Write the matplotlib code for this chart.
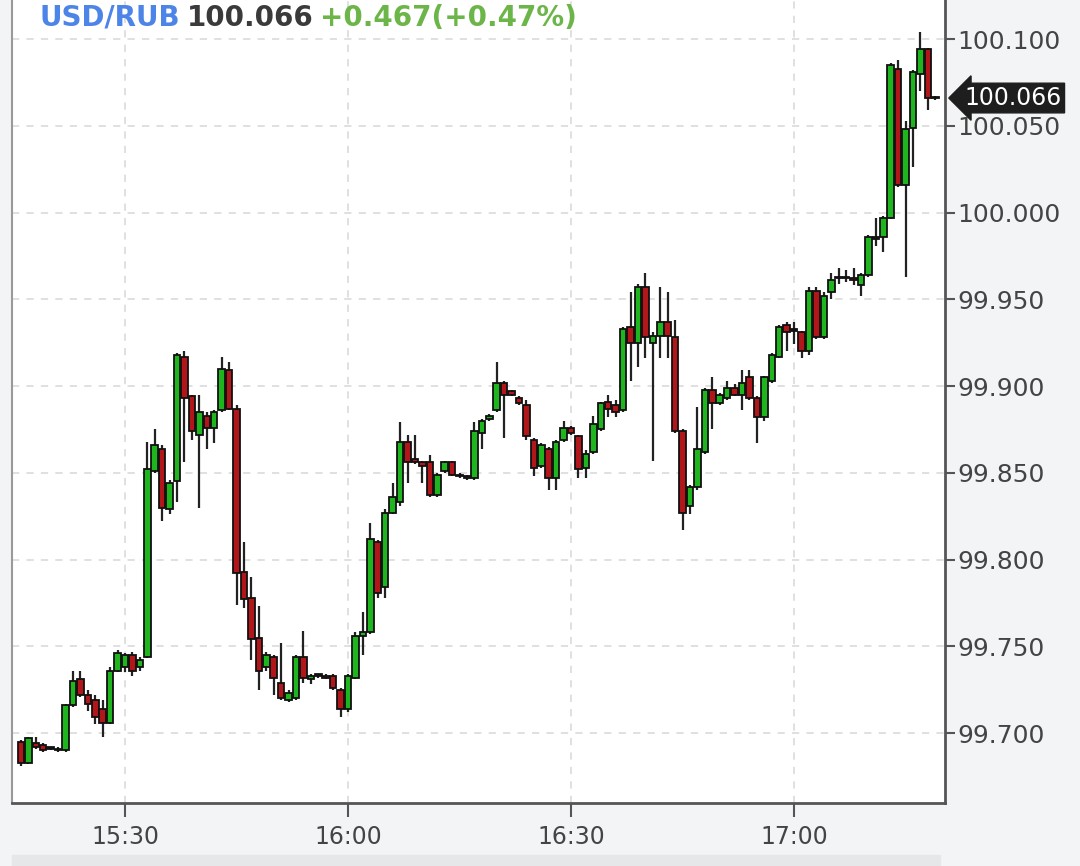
import numpy as np
import matplotlib
matplotlib.use('Agg')
import matplotlib.pyplot as plt
from matplotlib.patches import Rectangle

# velas de 1 minuto USD/RUB, la primera a las 15:16
apertura = [99.695, 99.683, 99.694, 99.693, 99.691, 99.691, 99.690, 99.716, 99.731, 99.722,
            99.719, 99.714, 99.706, 99.736, 99.738, 99.745, 99.738, 99.744, 99.851, 99.864,
            99.829, 99.845, 99.917, 99.894, 99.872, 99.883, 99.876, 99.886, 99.909, 99.887,
            99.793, 99.778, 99.755, 99.738, 99.744, 99.729, 99.719, 99.720, 99.744, 99.731,
            99.733, 99.733, 99.733, 99.725, 99.714, 99.732, 99.756, 99.758, 99.810, 99.784,
            99.827, 99.833, 99.868, 99.858, 99.856, 99.856, 99.837, 99.851, 99.856, 99.849,
            99.848, 99.847, 99.873, 99.881, 99.886, 99.902, 99.897, 99.893, 99.889, 99.869,
            99.854, 99.864, 99.847, 99.869, 99.876, 99.871, 99.853, 99.862, 99.875, 99.891,
            99.889, 99.886, 99.934, 99.925, 99.957, 99.925, 99.929, 99.937, 99.928, 99.874,
            99.831, 99.842, 99.862, 99.898, 99.890, 99.893, 99.899, 99.895, 99.905, 99.893,
            99.882, 99.903, 99.917, 99.935, 99.932, 99.931, 99.920, 99.955, 99.928, 99.954,
            99.962, 99.962, 99.962, 99.958, 99.964, 99.986, 99.986, 99.997, 100.083, 100.016,
            100.049, 100.080, 100.094, 100.066]
maximo = [99.696, 99.698, 99.698, 99.694, 99.692, 99.692, 99.717, 99.736, 99.736, 99.725,
          99.722, 99.719, 99.738, 99.748, 99.746, 99.747, 99.744, 99.868, 99.875, 99.866,
          99.846, 99.919, 99.920, 99.895, 99.895, 99.885, 99.886, 99.917, 99.914, 99.889,
          99.810, 99.790, 99.773, 99.747, 99.745, 99.752, 99.725, 99.745, 99.759, 99.734,
          99.734, 99.734, 99.734, 99.726, 99.734, 99.758, 99.770, 99.821, 99.811, 99.829,
          99.844, 99.879, 99.872, 99.872, 99.857, 99.860, 99.850, 99.857, 99.857, 99.850,
          99.849, 99.879, 99.881, 99.884, 99.914, 99.903, 99.898, 99.894, 99.892, 99.870,
          99.867, 99.865, 99.869, 99.880, 99.877, 99.872, 99.863, 99.883, 99.891, 99.895,
          99.892, 99.934, 99.954, 99.959, 99.965, 99.931, 99.957, 99.954, 99.938, 99.875,
          99.843, 99.888, 99.899, 99.905, 99.896, 99.903, 99.901, 99.909, 99.909, 99.894,
          99.906, 99.919, 99.935, 99.937, 99.937, 99.932, 99.957, 99.957, 99.954, 99.965,
          99.968, 99.967, 99.968, 99.965, 99.987, 99.997, 99.998, 100.086, 100.088, 100.053,
          100.082, 100.104, 100.095, 100.067]
minimo = [99.681, 99.682, 99.691, 99.689, 99.690, 99.689, 99.689, 99.715, 99.721, 99.713,
          99.705, 99.698, 99.705, 99.735, 99.735, 99.733, 99.736, 99.743, 99.850, 99.822,
          99.826, 99.833, 99.856, 99.869, 99.830, 99.864, 99.867, 99.885, 99.886, 99.774,
          99.772, 99.742, 99.725, 99.736, 99.722, 99.719, 99.718, 99.719, 99.729, 99.728,
          99.732, 99.731, 99.725, 99.709, 99.712, 99.731, 99.745, 99.757, 99.778, 99.778,
          99.826, 99.831, 99.844, 99.855, 99.844, 99.836, 99.836, 99.850, 99.848, 99.847,
          99.846, 99.846, 99.864, 99.880, 99.885, 99.870, 99.894, 99.889, 99.869, 99.848,
          99.853, 99.840, 99.840, 99.868, 99.872, 99.847, 99.847, 99.861, 99.874, 99.882,
          99.882, 99.885, 99.903, 99.911, 99.916, 99.857, 99.916, 99.916, 99.873, 99.817,
          99.826, 99.840, 99.861, 99.875, 99.889, 99.892, 99.894, 99.886, 99.892, 99.867,
          99.880, 99.902, 99.916, 99.920, 99.924, 99.916, 99.918, 99.927, 99.927, 99.950,
          99.959, 99.960, 99.958, 99.952, 99.963, 99.981, 99.977, 99.996, 100.015, 99.963,
          100.026, 100.070, 100.059, 100.065]
cierre = [99.683, 99.697, 99.692, 99.690, 99.691, 99.690, 99.716, 99.730, 99.722, 99.717,
          99.709, 99.706, 99.736, 99.746, 99.745, 99.736, 99.742, 99.852, 99.866, 99.830,
          99.844, 99.918, 99.893, 99.874, 99.885, 99.876, 99.885, 99.910, 99.887, 99.792,
          99.777, 99.754, 99.736, 99.745, 99.732, 99.720, 99.723, 99.744, 99.732, 99.733,
          99.733, 99.732, 99.726, 99.714, 99.733, 99.756, 99.758, 99.812, 99.781, 99.827,
          99.836, 99.868, 99.856, 99.856, 99.854, 99.837, 99.849, 99.856, 99.849, 99.848,
          99.847, 99.874, 99.880, 99.883, 99.902, 99.895, 99.895, 99.890, 99.871, 99.853,
          99.866, 99.847, 99.868, 99.876, 99.873, 99.852, 99.861, 99.878, 99.890, 99.887,
          99.885, 99.933, 99.925, 99.957, 99.928, 99.929, 99.937, 99.929, 99.874, 99.827,
          99.842, 99.864, 99.898, 99.890, 99.895, 99.899, 99.895, 99.902, 99.893, 99.882,
          99.905, 99.918, 99.934, 99.931, 99.932, 99.920, 99.955, 99.928, 99.952, 99.961,
          99.962, 99.962, 99.961, 99.964, 99.986, 99.985, 99.997, 100.085, 100.016, 100.048,
          100.081, 100.094, 100.066, 100.066]

minuto_inicio = 16  # minutos despues de las 15:00
ticks_hora = [30, 60, 90, 120]
etiquetas_hora = ['15:30', '16:00', '16:30', '17:00']
ticks_precio = [99.70, 99.75, 99.80, 99.85, 99.90, 99.95, 100.00, 100.05, 100.10]

ultimo = 100.066
cambio = '+0.467(+0.47%)'

o = np.array(apertura)
h = np.array(maximo)
l = np.array(minimo)
c = np.array(cierre)
t = minuto_inicio + np.arange(len(o))

verde = '#1fb51f'
rojo = '#b0161a'
colores = np.where(c > o, verde, np.where(c < o, rojo, '#222222'))

fig = plt.figure(figsize=(10.8, 8.66), dpi=100, facecolor='#f3f4f6')
ax = fig.add_axes([12/1080, 1 - 803/866, (945-12)/1080, 803/866])
ax.set_facecolor('white')

# grilla punteada
for xt in ticks_hora:
    ax.axvline(xt, color='#dddddd', lw=1.3, ls=(0, (4, 4)), zorder=0)
for yt in ticks_precio:
    ax.axhline(yt, color='#dddddd', lw=1.3, ls=(0, (4, 4)), zorder=0)

# mechas y cuerpos
ax.vlines(t, l, h, color='#222222', lw=1.6, zorder=2)
base = np.minimum(o, c)
alto = np.maximum(np.abs(c - o), 0.0008)
ax.bar(t, alto, bottom=base, width=0.88, color=colores, edgecolor='#111111',
       linewidth=1.3, zorder=3)

ax.set_xlim(14.8, 140.3)
ax.set_ylim(99.6597, 100.1225)

ax.yaxis.tick_right()
ax.set_yticks(ticks_precio)
ax.set_yticklabels(['%.3f' % v for v in ticks_precio])
ax.set_xticks(ticks_hora)
ax.set_xticklabels(etiquetas_hora)
ax.tick_params(axis='y', direction='out', length=7, width=1.5, color='#555555',
               labelsize=18, labelcolor='#444444', pad=2)
ax.tick_params(axis='x', direction='out', length=10, width=1.5, color='#555555',
               labelsize=17, labelcolor='#444444', pad=6)

for s in ['right', 'bottom']:
    ax.spines[s].set_color('#555555')
    ax.spines[s].set_linewidth(2)
ax.spines['left'].set_color('#999999')
ax.spines['left'].set_linewidth(1.5)
ax.spines['top'].set_visible(False)

# etiqueta del ultimo precio
ax.annotate('%.3f' % ultimo, xy=(1.0, ultimo), xycoords=('axes fraction', 'data'),
            xytext=(14, 0), textcoords='offset points', ha='left', va='center',
            fontsize=17, color='white',
            bbox=dict(boxstyle='larrow,pad=0.12', fc='#1e1e1e', ec='#1e1e1e'),
            annotation_clip=False)

# titulo
fig.text(40/1080, 1 - 18/866, 'USD/RUB', color='#4c84e8', fontsize=20,
         fontweight='bold', va='center')
fig.text(187/1080, 1 - 18/866, '%.3f' % ultimo, color='#3a3a3a', fontsize=20,
         fontweight='bold', va='center')
fig.text(320/1080, 1 - 18/866, cambio, color='#6cb548', fontsize=20,
         fontweight='bold', va='center')

# barra inferior
fig.patches.append(Rectangle((12/1080, 0), (940-12)/1080, 11/866,
                             transform=fig.transFigure, color='#e6e7e9', zorder=0))

fig.savefig('out.png', dpi=100, facecolor=fig.get_facecolor())
